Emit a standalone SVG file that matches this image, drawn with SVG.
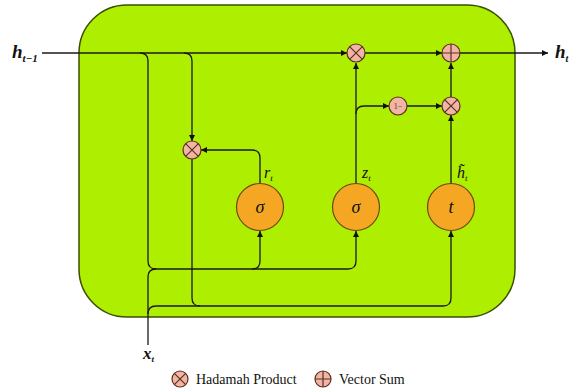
<svg xmlns="http://www.w3.org/2000/svg" width="576" height="392" viewBox="0 0 576 392">
<style>
.ln{fill:none;stroke:#1a1a1a;stroke-width:1.3}
.arr{marker-end:url(#ah)}
.op{fill:#f2b4a4;stroke:#5a3020;stroke-width:1.2}
.opx{stroke:#5a3020;stroke-width:1.2;fill:none}
.gate{fill:#f5a623;stroke:#6a4a10;stroke-width:1.2}
.m{font-family:"Liberation Serif",serif;font-style:italic;fill:#111}
.lg{font-family:"Liberation Serif",serif;font-size:14px;fill:#111}
</style>
<defs>
<marker id="ah" viewBox="0 0 8 8" refX="8" refY="4" markerWidth="6" markerHeight="6" orient="auto" markerUnits="userSpaceOnUse">
<path d="M0,0 L8,4 L0,8 z" fill="#111"/>
</marker>
</defs>
<rect id="cell" x="79" y="5" width="436" height="312" rx="48" fill="#aeee00" stroke="#3a4f00" stroke-width="1.5"/>
<g id="connectors">
<path class="ln arr" d="M42,53 H347"/>
<path class="ln" d="M140,53 Q148,53 148,61 V261 Q148,269 156,269 H252"/>
<path class="ln arr" d="M252,269 Q260,269 260,261 V231"/>
<path class="ln arr" d="M252,269 H348 Q356,269 356,261 V231"/>
<path class="ln arr" d="M184,53 Q192,53 192,61 V141"/>
<path class="ln arr" d="M192,159 V298 Q192,306 200,306 H443 Q451,306 451,298 V231"/>
<path class="ln" d="M148,345 V277 Q148,269 156,269"/>
<path class="ln" d="M148,314 Q148,306 156,306 H200"/>
<path class="ln arr" d="M260,184 V158 Q260,150 252,150 H201"/>
<path class="ln arr" d="M356,184 V63"/>
<path class="ln arr" d="M356,114 Q356,106 364,106 H389"/>
<path class="ln arr" d="M407,106 H442"/>
<path class="ln arr" d="M451,184 V115"/>
<path class="ln arr" d="M451,97 V63"/>
<path class="ln arr" d="M365,53 H442"/>
<path class="ln arr" d="M460,53 H548"/>
</g>
<g id="mul_r">
<circle class="op" cx="192" cy="150" r="9"/>
<path class="opx" d="M185.6,143.6 L198.4,156.4 M198.4,143.6 L185.6,156.4"/>
</g>
<g id="mul_z">
<circle class="op" cx="356" cy="53" r="9"/>
<path class="opx" d="M349.6,46.6 L362.4,59.4 M362.4,46.6 L349.6,59.4"/>
</g>
<g id="plus">
<circle class="op" cx="451" cy="53" r="9"/>
<path class="opx" d="M442,53 H460 M451,44 V62"/>
</g>
<g id="one_minus">
<circle class="op" cx="398" cy="106" r="9"/>
<text x="398" y="108.5" text-anchor="middle" font-family="Liberation Serif,serif" font-size="8" fill="#5a3020">1−</text>
</g>
<g id="mul_h">
<circle class="op" cx="451" cy="106" r="9"/>
<path class="opx" d="M444.6,99.6 L457.4,112.4 M457.4,99.6 L444.6,112.4"/>
</g>
<g id="sigma_r">
<circle class="gate" cx="260" cy="207" r="23.5"/>
<text class="m" x="260" y="213" text-anchor="middle" font-size="18">σ</text>
</g>
<g id="sigma_z">
<circle class="gate" cx="356" cy="207" r="23.5"/>
<text class="m" x="356" y="213" text-anchor="middle" font-size="18">σ</text>
</g>
<g id="tanh">
<circle class="gate" cx="451" cy="207" r="23.5"/>
<text class="m" x="451" y="213" text-anchor="middle" font-size="18">t</text>
</g>
<g id="labels">
<text class="m" x="12" y="58" font-size="19" font-weight="bold">h<tspan font-size="11" dy="4">t−1</tspan></text>
<text class="m" x="555" y="58" font-size="19" font-weight="bold">h<tspan font-size="10" dy="4">t</tspan></text>
<text class="m" x="264" y="178" font-size="16">r<tspan font-size="9" dy="3">t</tspan></text>
<text class="m" x="362" y="178" font-size="16">z<tspan font-size="9" dy="3">t</tspan></text>
<text class="m" x="457" y="178" font-size="16">h̃<tspan font-size="9" dy="3">t</tspan></text>
<text class="m" x="143" y="359" font-size="17" font-weight="bold">x<tspan font-size="9" dy="3">t</tspan></text>
</g>
<g id="legend">
<circle class="op" cx="180" cy="379" r="8"/>
<path class="opx" d="M174.3,373.3 L185.7,384.7 M185.7,373.3 L174.3,384.7"/>
<text class="lg" x="196" y="384">Hadamah Product</text>
<circle class="op" cx="323" cy="379" r="8"/>
<path class="opx" d="M315,379 H331 M323,371 V387"/>
<text class="lg" x="339" y="384">Vector Sum</text>
</g>
</svg>
